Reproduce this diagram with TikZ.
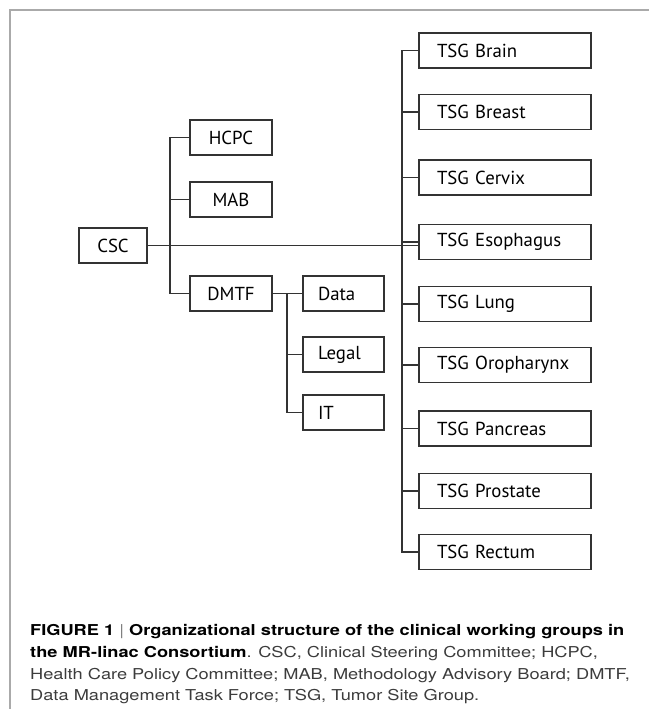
\documentclass[tikz,border=0pt]{standalone}
\usepackage{fontspec}
\setmainfont{PT Sans}
\newfontfamily\capfont[FakeStretch=1.215]{TeX Gyre Heros}
\definecolor{linegray}{HTML}{333333}
\definecolor{framegray}{HTML}{AAAAAA}
\definecolor{captext}{HTML}{3C3C3C}
\begin{document}
\begin{tikzpicture}[x=1pt,y=-1pt,
  box/.style={draw=linegray,line width=1.1pt,rectangle,minimum height=35pt,inner sep=0pt,font=\fontsize{18.8}{22}\selectfont,text=black},
  cbox/.style={box,minimum width=82pt,align=center},
  tsg/.style={box,text width=136pt,inner xsep=18pt,align=left},
  sub/.style={box,text width=51pt,inner xsep=15pt,align=left},
  conn/.style={draw=linegray,line width=1.1pt},
  captxt/.style={anchor=base west,inner sep=0pt,font=\capfont\fontsize{15}{18}\selectfont,text=captext}
]
\useasboundingbox (0,0) rectangle (649,709);
\draw[framegray,line width=2pt] (10,709) -- (10,10.5) -- (649,10.5);

\node[cbox,minimum width=68pt] (csc) at (113,245.5) {CSC};
\node[cbox] (hcpc) at (231,137.5) {HCPC};
\node[cbox] (mab) at (231,199.5) {MAB};
\node[cbox] (dmtf) at (231,293.5) {DMTF};
\node[sub] (data) at (343.5,293.5) {Data};
\node[sub] (legal) at (343.5,354.5) {Legal};
\node[sub] (it) at (343.5,412.5) {IT};

\node[tsg] (brain) at (505,50.5) {TSG Brain};
\node[tsg] (breast) at (505,112) {TSG Breast};
\node[tsg] (cervix) at (505,177.5) {TSG Cervix};
\node[tsg] (esoph) at (505,242) {TSG Esophagus};
\node[tsg] (lung) at (505,304) {TSG Lung};
\node[tsg] (oro) at (505,365) {TSG Oropharynx};
\node[tsg] (panc) at (505,428.5) {TSG Pancreas};
\node[tsg] (prost) at (505,491) {TSG Prostate};
\node[tsg] (rect) at (505,552) {TSG Rectum};

\coordinate (ltop) at (170,137.5);
\coordinate (lbot) at (170,293.5);
\draw[conn] (hcpc.west) -- (hcpc.west -| ltop) -- (dmtf.west -| lbot) -- (dmtf.west);
\draw[conn] (mab.west) -- (mab.west -| ltop);
\draw[conn] (csc.east) -- (csc.east -| esoph.west);

\coordinate (sx) at (287,0);
\draw[conn] (dmtf.east) -- (data.west);
\draw[conn] (data.west -| sx) -- (it.west -| sx) -- (it.west);
\draw[conn] (legal.west) -- (legal.west -| sx);

\coordinate (tx) at (402,0);
\draw[conn] (brain.west) -- (brain.west -| tx) -- (rect.west -| tx) -- (rect.west);
\foreach \n in {breast,cervix,esoph,lung,oro,panc,prost}
  \draw[conn] (\n.west) -- (\n.west -| tx);

\node[captxt] (c1) at (30,635) {\textcolor{black}{\bfseries FIGURE 1} {\color{gray}|} \textcolor{black}{\bfseries Organizational structure of the clinical working groups in}};
\node[captxt] (c2) at (30,657) {\textcolor{black}{\bfseries the MR-linac Consortium}. CSC, Clinical Steering Committee; HCPC,};
\node[captxt] (c3) at (30,679) {Health Care Policy Committee; MAB, Methodology Advisory Board; DMTF,};
\node[captxt] (c4) at (30,700.5) {Data Management Task Force; TSG, Tumor Site Group.};
\end{tikzpicture}
\end{document}
